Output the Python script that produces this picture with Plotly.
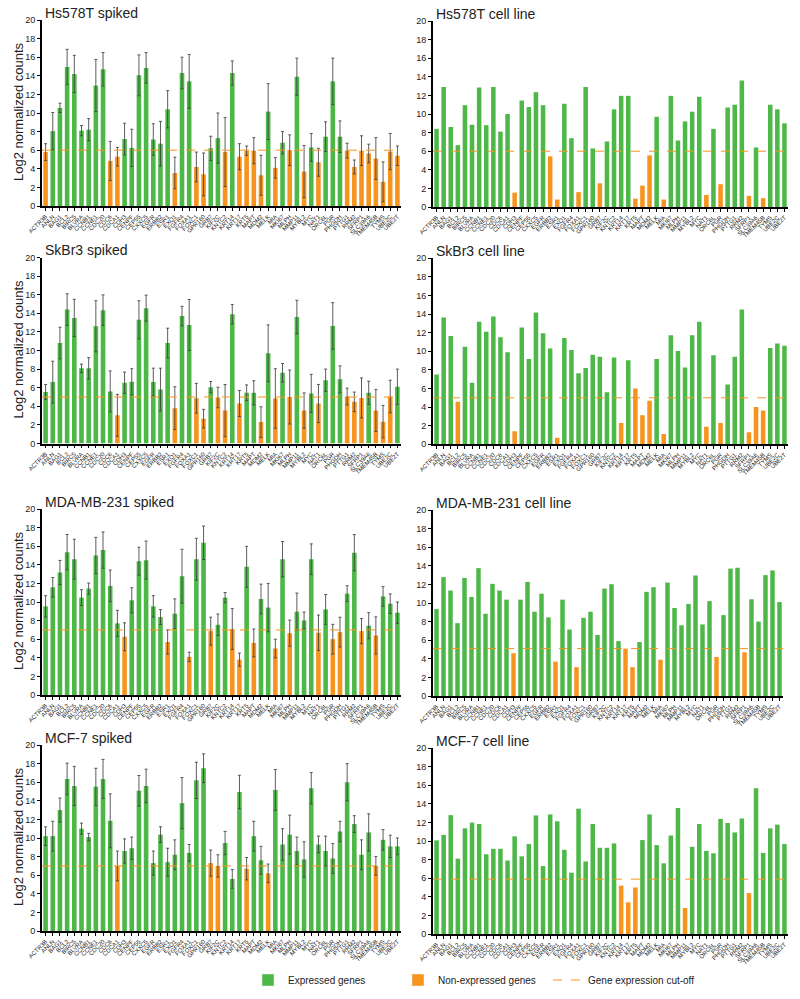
import plotly.graph_objects as go

genes = ["ACTR3B","ANLN","BAG1","BCL2","BIRC5","BLVRA","CCNB1","CCNE1","CDC20","CDC6",
         "CDCA1","CDH3","CENPF","CEP55","CXXC5","EGFR","ERBB2","ESR1","EXO1","FGFR4",
         "FOXA1","FOXC1","GPR160","GRB7","KIF2C","KNTC2","KRT14","KRT17","KRT5","MAPT",
         "MDM2","MELK","MIA","MKI67","MLPH","MMP11","MYBL2","MYC","NAT1","ORC6L",
         "PGR","PHGDH","PTTG1","RRM2","SFRP1","SLC39A6","TMEM45B","TYMS","UBE2C","UBE2T"]

titles = ["Hs578T spiked", "Hs578T cell line", "SkBr3 spiked", "SkBr3 cell line",
          "MDA-MB-231 spiked", "MDA-MB-231 cell line", "MCF-7 spiked", "MCF-7 cell line"]
cutoffs = [6, 6, 5, 5, 7, 5.1, 7, 5.9]
y_title = "Log2 normalized counts"

hs_spiked = [5.8, 8.05, 10.55, 14.95, 14.2, 8.1, 8.2, 12.95, 14.7, 4.85,
             5.3, 7.2, 6.25, 14.05, 14.85, 7.15, 6.7, 10.4, 3.55, 14.3,
             13.4, 4.2, 3.4, 6.2, 7.3, 5.8, 14.3, 5.3, 5.95, 5.95,
             3.3, 10.15, 4.1, 6.8, 6.0, 13.9, 3.7, 6.3, 4.7, 7.45,
             13.4, 7.45, 5.95, 4.2, 5.95, 5.65, 5.1, 2.6, 5.85, 5.4]
hs_spiked_err = [0.9, 2.0, 0.5, 1.9, 2.0, 0.55, 1.2, 2.8, 1.8, 2.1,
                 1.0, 1.7, 2.0, 2.2, 1.65, 1.7, 2.4, 2.0, 1.7, 1.7,
                 2.9, 1.6, 2.3, 1.3, 2.7, 3.7, 1.3, 1.4, 0.5, 1.4,
                 2.15, 3.0, 1.1, 1.2, 1.65, 2.0, 2.8, 1.5, 1.5, 1.6,
                 2.5, 1.7, 0.8, 0.75, 1.6, 1.0, 2.25, 2.15, 1.95, 1.05]
hs_spiked_expr = [0,1,1,1,1,1,1,1,1,0, 0,1,1,1,1,1,1,1,0,1,
                  1,0,0,1,1,0,1,0,0,0, 0,1,0,1,0,1,0,1,0,1,
                  1,1,0,0,0,0,0,0,0,0]

hs_cell = [8.4, 12.9, 8.6, 6.65, 10.95, 8.85, 12.85, 8.8, 12.9, 8.1,
           10.0, 1.55, 11.45, 10.75, 12.35, 10.95, 5.45, 0.8, 11.1, 7.4,
           1.6, 12.9, 6.3, 2.55, 7.05, 10.5, 11.95, 11.95, 0.9, 2.3,
           5.55, 9.7, 0.8, 11.95, 7.15, 9.2, 10.25, 11.85, 1.3, 8.4,
           2.45, 10.7, 11.0, 13.6, 1.2, 6.4, 0.95, 11.0, 10.5, 9.0]
hs_cell_expr = [1,1,1,1,1,1,1,1,1,1, 1,0,1,1,1,1,0,0,1,1,
                0,1,1,0,1,1,1,1,0,0, 0,1,0,1,1,1,1,1,0,1,
                0,1,1,1,0,1,0,1,1,1]

sk_spiked = [5.55, 6.6, 10.8, 14.4, 13.5, 8.08, 8.08, 12.6, 14.33, 5.6,
             3.03, 6.53, 6.64, 13.3, 14.55, 6.6, 5.8, 10.8, 3.8, 13.7,
             12.74, 4.87, 2.67, 6.06, 4.95, 3.54, 13.9, 4.3, 5.45, 5.45,
             2.3, 9.7, 4.84, 7.6, 5.0, 13.6, 3.54, 5.38, 4.3, 6.8,
             12.64, 6.9, 5.05, 4.48, 4.9, 5.45, 3.54, 2.35, 5.05, 6.1]
sk_spiked_err = [0.8, 2.25, 1.7, 1.7, 2.0, 0.45, 1.15, 2.75, 1.65, 2.2,
                 2.25, 1.15, 1.4, 2.05, 1.4, 1.5, 2.3, 1.6, 2.3, 1.05,
                 2.75, 1.6, 1.0, 0.6, 1.1, 2.8, 1.05, 1.4, 0.85, 1.3,
                 1.65, 3.05, 3.2, 1.0, 2.9, 1.8, 1.9, 2.05, 2.05, 1.2,
                 2.5, 1.45, 0.9, 1.05, 2.15, 1.25, 2.25, 1.75, 1.75, 1.9]
sk_spiked_expr = [1,1,1,1,1,1,1,1,1,1, 0,1,1,1,1,1,1,1,0,1,
                  1,0,0,1,0,0,1,0,1,1, 0,1,0,1,0,1,0,1,0,1,
                  1,1,0,0,0,1,0,0,0,1]

sk_cell = [7.5, 13.63, 11.65, 4.57, 10.5, 6.62, 13.17, 12.09, 13.74, 11.5,
           9.9, 1.4, 12.55, 9.17, 14.17, 11.94, 10.29, 0.7, 11.44, 10.14,
           7.63, 8.2, 9.64, 9.42, 5.6, 9.32, 2.3, 9.03, 6.0, 3.13,
           4.68, 9.17, 1.1, 11.73, 10.04, 8.27, 11.73, 13.17, 1.9, 9.57,
           2.3, 6.44, 9.42, 14.5, 1.3, 4.0, 3.63, 10.36, 10.83, 10.6]
sk_cell_expr = [1,1,1,0,1,1,1,1,1,1, 1,0,1,1,1,1,1,0,1,1,
                1,1,1,1,1,1,0,1,0,0, 0,1,0,1,1,1,1,1,0,1,
                0,1,1,1,0,0,0,1,1,1]

mda_spiked = [9.53, 11.58, 13.17, 15.36, 14.6, 10.47, 11.44, 15.0, 15.58, 11.73,
              7.7, 6.26, 10.18, 14.39, 14.5, 9.53, 8.38, 5.7, 8.74, 12.77,
              4.1, 14.6, 16.37, 6.87, 7.55, 10.47, 7.09, 3.8, 13.78, 5.6,
              10.32, 9.4, 5.0, 14.6, 6.65, 8.96, 8.02, 14.6, 6.7, 9.2,
              6.0, 6.76, 10.9, 15.3, 6.87, 7.45, 6.4, 10.6, 9.82, 8.85]
mda_spiked_err = [1.15, 1.05, 1.3, 1.9, 2.15, 0.85, 0.6, 1.95, 1.95, 1.7,
                  1.4, 1.5, 1.35, 1.5, 2.05, 1.15, 0.8, 1.3, 1.6, 2.9,
                  0.5, 2.25, 1.8, 1.5, 1.15, 0.55, 2.2, 0.7, 2.2, 1.5,
                  1.6, 2.6, 1.0, 1.9, 1.4, 2.0, 0.9, 1.65, 1.9, 1.6,
                  1.6, 1.6, 0.85, 1.95, 1.35, 1.4, 2.0, 1.05, 1.05, 1.15]
mda_spiked_expr = [1,1,1,1,1,1,1,1,1,1, 1,0,1,1,1,1,1,0,1,1,
                   0,1,1,0,1,1,0,0,1,0, 1,1,0,1,0,1,1,1,0,1,
                   0,0,1,1,0,1,0,1,1,1]

mda_cell = [9.35, 12.78, 11.34, 7.83, 12.7, 10.65, 13.75, 8.84, 12.06, 11.34,
            10.36, 4.6, 10.36, 12.27, 9.06, 11.0, 8.45, 3.7, 10.36, 7.15,
            3.1, 8.41, 9.06, 6.57, 11.55, 12.02, 5.9, 5.1, 3.1, 5.8,
            11.2, 11.7, 3.9, 12.2, 9.46, 7.6, 9.9, 12.96, 7.7, 10.2,
            4.2, 8.7, 13.7, 13.8, 4.7, 10.4, 8.0, 13.0, 13.5, 10.1]
mda_cell_expr = [1,1,1,1,1,1,1,1,1,1, 1,0,1,1,1,1,1,0,1,1,
                 0,1,1,1,1,1,1,0,0,1, 1,1,0,1,1,1,1,1,1,1,
                 0,1,1,1,0,1,1,1,1,1]

mcf_spiked = [10.2, 10.2, 13.0, 16.35, 15.6, 11.0, 10.1, 15.5, 16.35, 11.85,
              7.0, 8.6, 8.9, 15.07, 15.6, 7.3, 10.36, 7.4, 8.2, 13.75,
              8.4, 16.2, 17.5, 7.3, 7.0, 9.46, 5.6, 14.95, 6.7, 10.2,
              7.6, 6.2, 15.17, 9.3, 10.36, 8.6, 7.7, 15.35, 9.3, 8.6,
              7.8, 10.7, 16.0, 11.5, 8.2, 10.6, 7.0, 9.8, 9.1, 9.1]
mcf_spiked_err = [1.0, 1.6, 1.3, 1.7, 2.1, 0.6, 0.4, 2.0, 2.1, 2.9,
                  1.6, 1.3, 1.2, 1.65, 1.8, 1.3, 0.85, 1.5, 1.6, 2.75,
                  0.9, 1.95, 1.55, 1.4, 1.2, 1.25, 1.0, 1.8, 1.2, 1.6,
                  1.5, 1.0, 2.2, 1.7, 2.1, 1.5, 1.9, 1.7, 0.9, 1.6,
                  1.6, 1.1, 2.0, 0.9, 1.6, 2.0, 1.0, 1.1, 1.2, 0.9]
mcf_spiked_expr = [1,1,1,1,1,1,1,1,1,1, 0,1,1,1,1,1,1,1,1,1,
                   1,1,1,0,0,1,1,1,0,1, 1,0,1,1,1,1,1,1,1,1,
                   1,1,1,1,1,1,0,1,1,1]

mcf_cell = [10.07, 10.66, 12.78, 8.1, 11.36, 11.98, 11.83, 8.57, 9.16, 9.16,
            7.9, 10.5, 8.35, 9.67, 12.75, 7.3, 12.86, 12.12, 9.05, 6.6,
            13.48, 7.8, 11.83, 9.27, 9.27, 9.74, 5.2, 3.4, 5.0, 10.1,
            12.86, 9.56, 7.6, 10.59, 13.55, 2.8, 9.38, 11.83, 8.94, 8.68,
            12.38, 11.94, 10.92, 12.42, 4.4, 15.68, 8.72, 11.36, 11.76, 9.67]
mcf_cell_expr = [1,1,1,1,1,1,1,1,1,1, 1,1,1,1,1,1,1,1,1,1,
                 1,1,1,1,1,1,0,0,0,1, 1,1,1,1,1,0,1,1,1,1,
                 1,1,1,1,0,1,1,1,1,1]

panels = [
    (hs_spiked, hs_spiked_expr, hs_spiked_err),
    (hs_cell, hs_cell_expr, None),
    (sk_spiked, sk_spiked_expr, sk_spiked_err),
    (sk_cell, sk_cell_expr, None),
    (mda_spiked, mda_spiked_expr, mda_spiked_err),
    (mda_cell, mda_cell_expr, None),
    (mcf_spiked, mcf_spiked_expr, mcf_spiked_err),
    (mcf_cell, mcf_cell_expr, None),
]

GREEN = "#4DB848"
ORANGE = "#F7941D"
W, H = 800, 999
FONT = "Liberation Sans, Arial, sans-serif"

# pixel layout: (x_left, x_right, y_top(20), y_bottom(0))
boxes = [
    (42, 401, 20, 206), (433, 788, 21, 207),
    (42, 401, 257.5, 443.5), (433, 788, 258.3, 444.3),
    (42, 401, 509, 695), (433, 783, 510, 696),
    (42, 401, 745, 931), (433, 788, 748, 934),
]

fig = go.Figure()
layout = {}
annotations = []
shapes = []

for i, ((vals, expr, err), title, cut, box) in enumerate(zip(panels, titles, cutoffs, boxes)):
    n = i + 1
    xa = "x" if n == 1 else f"x{n}"
    ya = "y" if n == 1 else f"y{n}"
    colors = [GREEN if e else ORANGE for e in expr]
    bar = dict(x=genes, y=vals, marker=dict(color=colors, line=dict(width=0)),
               xaxis=xa, yaxis=ya, showlegend=False, hoverinfo="x+y")
    if err is not None:
        bar["error_y"] = dict(type="data", array=err, visible=True,
                              color="rgba(65,65,65,0.85)", thickness=1, width=1.5)
    fig.add_trace(go.Bar(**bar))

    xl, xr, yt, yb = box
    layout["xaxis" if n == 1 else f"xaxis{n}"] = dict(
        domain=[xl / W, xr / W], anchor=ya, type="category",
        categoryorder="array", categoryarray=genes, range=[-0.5, 49.5],
        tickmode="array", tickvals=genes, ticktext=genes,
        tickangle=-45, tickfont=dict(size=6, color="#222", family=FONT),
        ticks="outside", ticklen=3, tickwidth=1, tickcolor="black",
        showline=True, linecolor="black", linewidth=1.5, automargin=False,
        showgrid=False, zeroline=False, fixedrange=True)
    layout["yaxis" if n == 1 else f"yaxis{n}"] = dict(
        domain=[1 - yb / H, 1 - yt / H], anchor=xa, range=[0, 20],
        tickmode="linear", tick0=0, dtick=2, automargin=False,
        tickfont=dict(size=9, color="#222", family=FONT),
        ticks="outside", ticklen=3, tickwidth=1, tickcolor="black",
        showline=True, linecolor="black", linewidth=2,
        showgrid=False, zeroline=False, fixedrange=True)
    if n % 2 == 1:
        annotations.append(dict(text=y_title, xref="paper", yref="paper",
                                x=18 / W, y=1 - ((yt + yb) / 2 - 1) / H, textangle=-90,
                                xanchor="center", yanchor="middle", showarrow=False,
                                font=dict(size=13, color="#222", family=FONT)))

    shapes.append(dict(type="line", xref=f"{xa} domain", x0=0, x1=1,
                       yref=ya, y0=cut, y1=cut,
                       line=dict(color=ORANGE, width=1, dash="dash")))
    annotations.append(dict(text=title, xref="paper", yref="paper",
                            x=(xl + 1) / W, y=1 - (yt - 7) / H,
                            xanchor="left", yanchor="middle", showarrow=False,
                            font=dict(size=14, color="#222", family=FONT)))

# legend entries
fig.add_trace(go.Bar(x=[None], y=[None], name="Expressed genes",
                     marker=dict(color=GREEN), xaxis="x", yaxis="y"))
fig.add_trace(go.Bar(x=[None], y=[None], name="Non-expressed genes",
                     marker=dict(color=ORANGE), xaxis="x", yaxis="y"))
fig.add_trace(go.Scatter(x=[None], y=[None], mode="lines", name="Gene expression cut-off",
                         line=dict(color=ORANGE, width=1, dash="dash"), xaxis="x", yaxis="y"))

fig.update_layout(
    width=W, height=H, margin=dict(l=0, r=0, t=0, b=0, autoexpand=False),
    paper_bgcolor="white", plot_bgcolor="white",
    bargap=0.36, font=dict(family=FONT, color="#222"),
    annotations=annotations, shapes=shapes,
    legend=dict(orientation="h", x=248 / W, y=1 - 980 / H, xanchor="left", yanchor="middle",
                font=dict(size=10, family=FONT, color="#222"),
                entrywidth=105, entrywidthmode="pixels",
                bgcolor="rgba(0,0,0,0)"),
    **layout,
)

fig.write_html("out.html", config={"displayModeBar": False},
               post_script="document.body.style.margin='0';document.body.style.overflow='hidden';")
